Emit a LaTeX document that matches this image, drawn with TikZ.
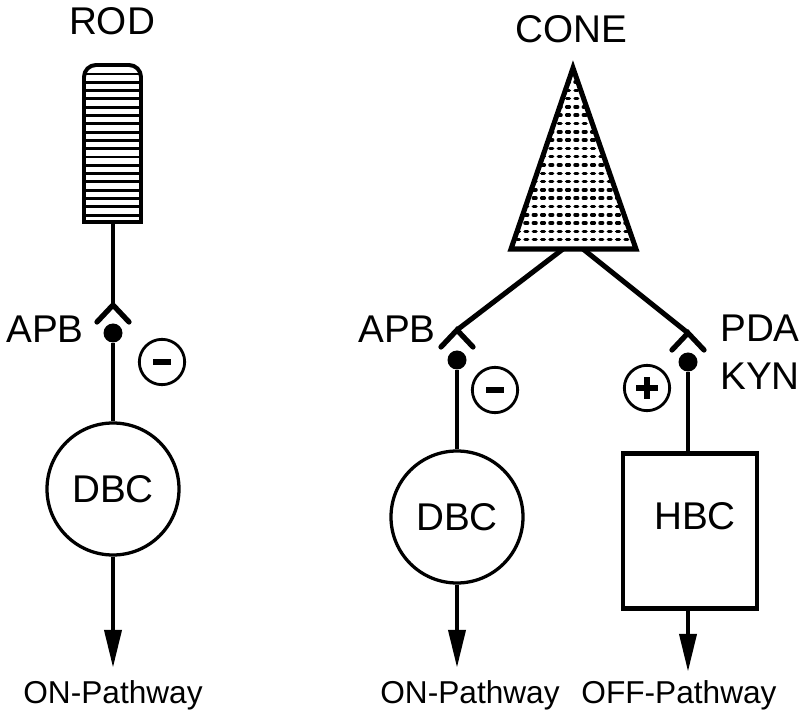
\documentclass[tikz,border=0pt]{standalone}
\usepackage{fontspec}
\setmainfont{Liberation Sans}
\usetikzlibrary{arrows.meta, positioning}
\tikzset{
    >=Stealth,
    % Text
    lbl/.style={font=\fontsize{33}{38}\selectfont, inner sep=0pt},
    pathlbl/.style={font=\fontsize{27}{30}\selectfont, inner sep=0pt},
    % Shapes
    cellRound/.style={circle, draw, line width=2.8pt, minimum size=3.96cm, inner sep=0pt,
                      font=\fontsize{33}{38}\selectfont},
    cellBox/.style={rectangle, draw, line width=3.6pt, minimum width=4.0cm, minimum height=4.65cm,
                    inner sep=0pt},
    sign/.style={circle, draw, line width=2.4pt, minimum size=1.36cm, inner sep=0pt},
    minusSign/.style={sign, path picture={
        \draw[line width=5.5pt] ([xshift=-0.27cm]path picture bounding box.center)
                           -- ([xshift=0.27cm]path picture bounding box.center);}},
    plusSign/.style={sign, path picture={
        \draw[line width=5.5pt] ([xshift=-0.32cm]path picture bounding box.center)
                           -- ([xshift=0.32cm]path picture bounding box.center);
        \draw[line width=5.5pt] ([yshift=-0.32cm]path picture bounding box.center)
                           -- ([yshift=0.32cm]path picture bounding box.center);}},
    knob/.style={circle, fill, minimum size=0.57cm, inner sep=0pt},
    % Lines
    outline/.style={line width=3.4pt},
    stripe/.style={line width=2.4pt},
    stipple/.style={line width=3pt, line cap=round, dash pattern=on 0.08cm off 0.17cm},
    stem/.style={line width=3.2pt},
    feed/.style={line width=4.3pt},
    caret/.style={line width=4.5pt, line cap=round, line join=miter},
    outArrow/.style={-{Triangle[length=1.14cm, width=0.5cm]}, line width=4pt}
}

\begin{document}
\begin{tikzpicture}[x=0.03cm, y=-0.03cm]
\useasboundingbox (0,0) rectangle (803,710);

% Rod
\node[lbl, anchor=base] (rodlbl) at (112,35) {ROD};
\begin{scope}
  \clip (84,222) -- (84,77) arc[start angle=180, end angle=270, radius=12]
        -- (129,65) arc[start angle=270, end angle=360, radius=12] -- (141,222) -- cycle;
  \foreach \r in {0,...,17}
    \draw[stripe] (80,{74+8.3*\r}) -- (145,{74+8.3*\r});
\end{scope}
\draw[outline] (84,222) -- (84,77) arc[start angle=180, end angle=270, radius=12]
      -- (129,65) arc[start angle=270, end angle=360, radius=12] -- (141,222) -- cycle;
\coordinate (rodbot) at (113,222);

% Cone
\node[lbl, anchor=base] (conelbl) at (571,43) {CONE};
\coordinate (apex) at (573,68);
\coordinate (baseL) at (511,249);
\coordinate (baseR) at (636,249);
\begin{scope}
  \clip (apex) -- (baseR) -- (baseL) -- cycle;
  \foreach \r in {0,...,19}
    \draw[stipple] (500,{82+8.3*\r}) -- (650,{82+8.3*\r});
\end{scope}
\draw[feed, line join=miter] (apex) -- (baseR) -- (baseL) -- cycle;
\coordinate (coneL) at (563,249);
\coordinate (coneR) at (583,249);

% Rod pathway
\coordinate (syn1) at (113,305);
\draw[stem] (rodbot) -- (syn1);
\draw[caret] (syn1) ++(-16,17) -- (syn1) -- ++(16,17);
\node[knob] (dot1) at (113,333) {};
\node[minusSign] (minus1) at (162,362) {};
\node[lbl, anchor=base east] (apb1) at (84,343) {APB};
\node[cellRound] (dbc1) at (113,489) {DBC};
\coordinate (end1) at (113,668);
\node[pathlbl, anchor=base] (on1) at (113,703) {ON-Pathway};
\draw[stem] (dot1) -- (dbc1);
\draw[outArrow] (dbc1) -- (end1);

% Cone ON pathway
\coordinate (syn2) at (457,330);
\draw[feed] (coneL) -- (syn2);
\draw[caret] (syn2) ++(-16,17) -- (syn2) -- ++(16,17);
\node[knob] (dot2) at (457,360) {};
\node[minusSign] (minus2) at (495,390) {};
\node[lbl, anchor=base east] (apb2) at (436,343) {APB};
\node[cellRound] (dbc2) at (457,517) {DBC};
\coordinate (end2) at (457,668);
\node[pathlbl, anchor=base] (on2) at (470,703) {ON-Pathway};
\draw[stem] (dot2) -- (dbc2);
\draw[outArrow] (dbc2) -- (end2);

% Cone OFF pathway
\coordinate (syn3) at (688,333);
\draw[feed] (coneR) -- (syn3);
\draw[caret] (syn3) ++(-16,17) -- (syn3) -- ++(16,17);
\node[knob] (dot3) at (688,362) {};
\node[plusSign] (plus3) at (647,388) {};
\node[lbl, anchor=base west] (pda) at (720,342) {PDA};
\node[lbl, anchor=base west] (kyn) at (720,390) {KYN};
\node[cellBox, label={[lbl, xshift=0.15cm, yshift=0.43cm]center:HBC}] (hbc) at (690,531) {};
\coordinate (end3) at (688,672);
\node[pathlbl, anchor=base] (off3) at (679,703) {OFF-Pathway};
\draw[stem] (dot3) -- (dot3 |- hbc.north);
\draw[outArrow] (hbc.south -| end3) -- (end3);

\end{tikzpicture}
\end{document}
